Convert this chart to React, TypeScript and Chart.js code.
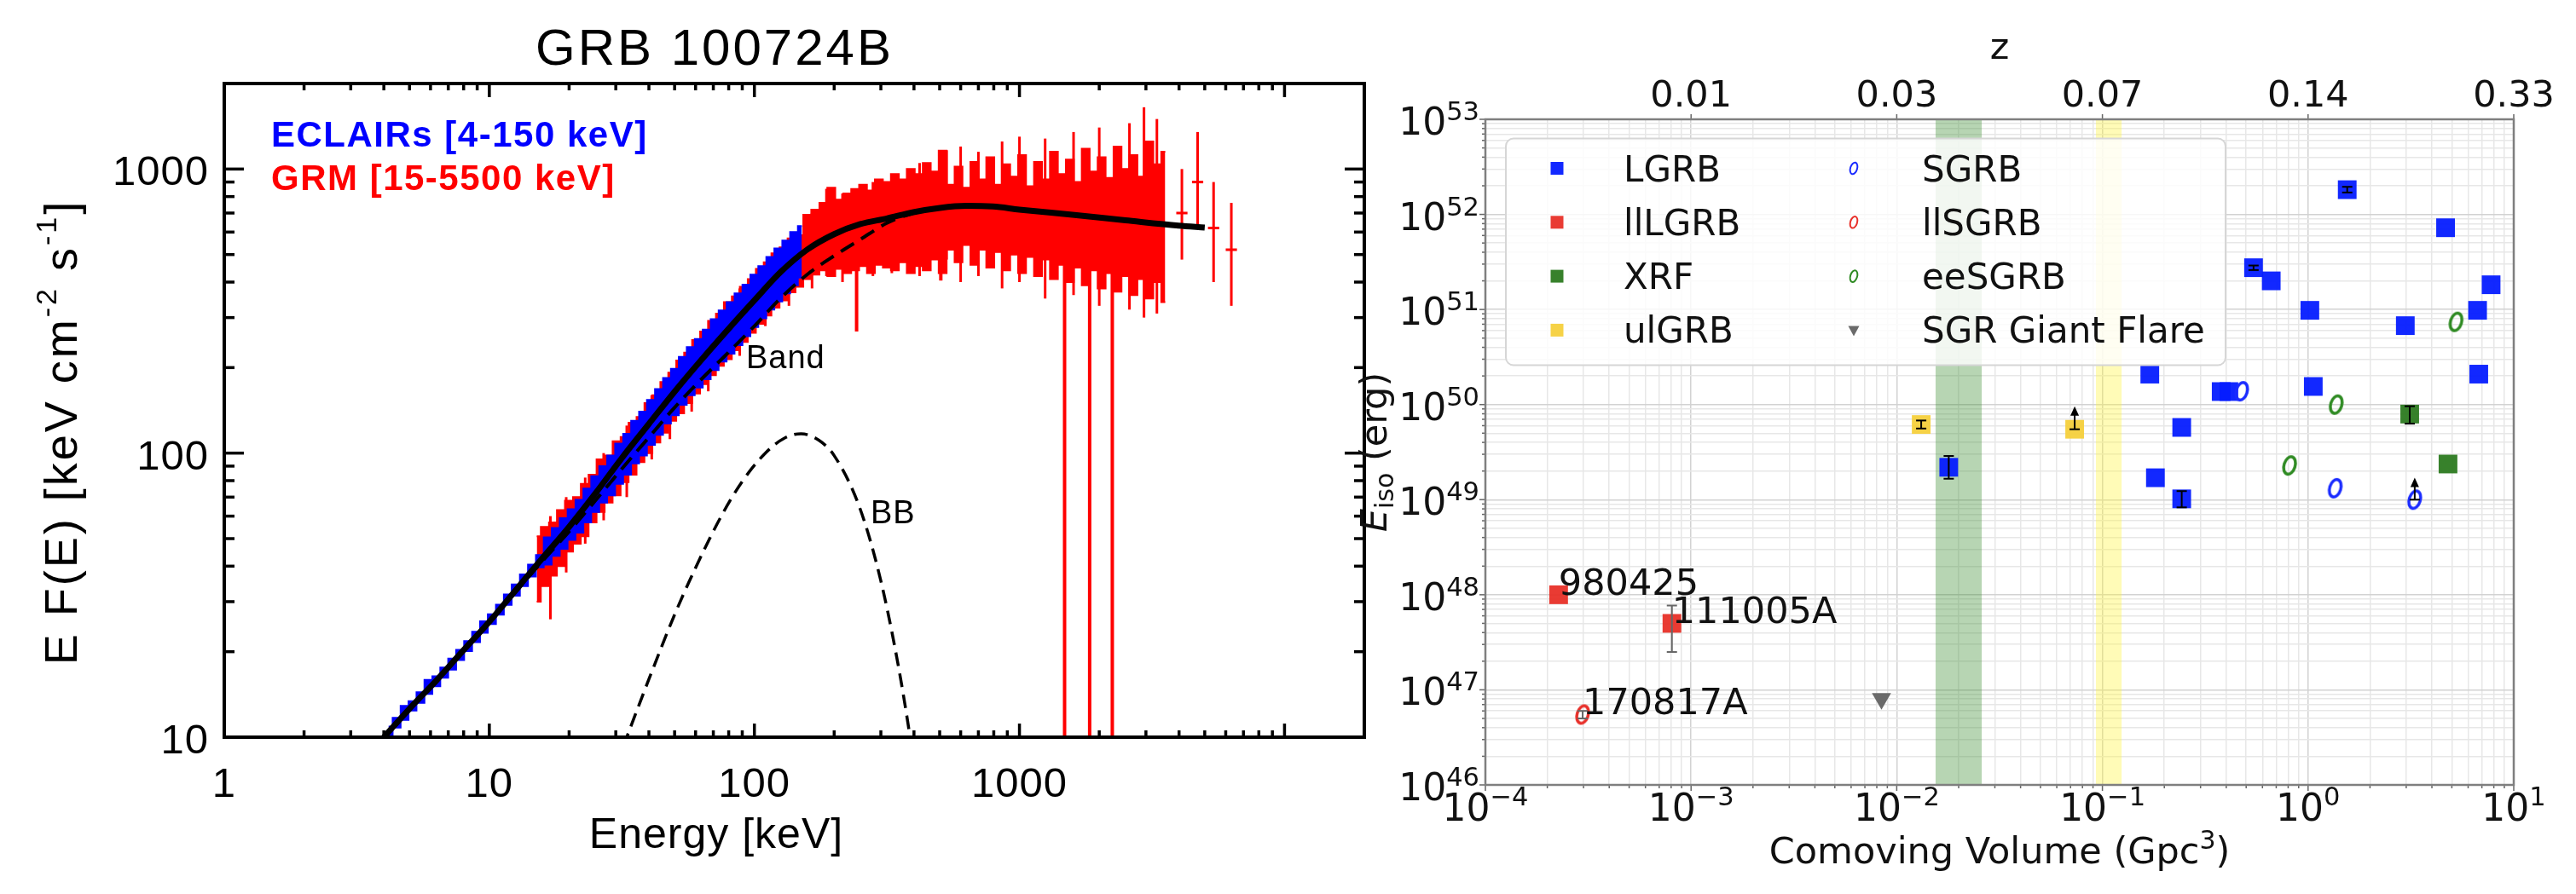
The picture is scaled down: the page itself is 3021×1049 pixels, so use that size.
import React, { useEffect, useRef } from 'react';
import { Chart, registerables } from 'chart.js';

Chart.register(...registerables);

/* ================= LEFT PANEL DATA (GRB 100724B spectrum) ================= */
const spectrumTitle = 'GRB 100724B';
const energyRange = [1, 20000];
const fluxRange = [10, 2000];
const energyTickValues = [1, 10, 100, 1000];
const energyTickLabels = ['1', '10', '100', '1000'];
const fluxTickValues = [10, 100, 1000];
const fluxTickLabels = ['10', '100', '1000'];
const energyAxisTitle = 'Energy [keV]';
const eclairsLabel = 'ECLAIRs [4-150 keV]';
const grmLabel = 'GRM [15-5500 keV]';
const bandLabel = 'Band';
const bbLabel = 'BB';

// total model (solid) and Band component (dashed)
const modelEnergy = [4, 5, 6.3, 7.9, 10, 12.6, 15.8, 20, 25.1, 31.6, 39.8, 50.1, 63.1, 79.4, 100, 126, 158, 200, 251, 316, 398, 501, 631, 794, 1000, 1585, 2512, 3981, 5000];
const totalModel = [10, 12.6, 15.8, 20, 25.5, 33, 42.5, 55, 72, 96, 126, 165, 213, 272, 345, 435, 520, 590, 640, 670, 705, 730, 742, 738, 720, 690, 660, 632, 622];
const bandModel = [10, 12.6, 15.8, 20, 25.3, 32.5, 41.5, 53, 68, 88, 113, 145, 182, 225, 280, 352, 425, 495, 565, 645, 700, 730, 742, 738, 720, 690, 660, 632, 622];
// blackbody component (dashed)
const bbEnergy = [30, 33, 40, 50, 60, 75, 90, 110, 130, 150, 175, 200, 250, 300, 350, 390, 420];
const bbModel = [7.9, 10, 16, 27, 39.5, 60, 79.5, 100, 113, 117, 111, 98, 64, 35.5, 17.6, 9.5, 5.8];

// ECLAIRs data (blue), upper / lower edges of the error bars
const eclairsEnergy = [4.17, 4.47, 4.79, 5.13, 5.5, 5.89, 6.31, 6.76, 7.24, 7.76, 8.32, 8.91, 9.55, 10.2, 11.0, 11.7, 12.6, 13.5, 14.5, 15.5, 16.6, 17.8, 19.1, 20.4, 21.9, 23.4, 25.1, 26.9, 28.8, 30.9, 33.1, 35.5, 38.0, 40.7, 43.7, 46.8, 50.1, 53.7, 57.5, 61.7, 66.1, 70.8, 75.9, 81.3, 87.1, 93.3, 100, 107, 115, 123, 132, 141, 151];
const eclairsHigh = [10.9, 11.7, 12.9, 13.4, 14.4, 15.9, 16.4, 17.6, 18.9, 20.3, 21.8, 23.5, 25.6, 27.1, 29.3, 31.8, 34.5, 37.4, 40.5, 43.8, 50.5, 54.5, 59.0, 63.5, 68.5, 75.0, 83.0, 90.0, 98.0, 108, 117, 130, 140, 154, 168, 184, 198, 218, 236, 252, 272, 296, 318, 340, 365, 392, 425, 455, 490, 525, 560, 600, 630];
const eclairsLow = [10.0, 10.8, 11.5, 12.4, 13.2, 14.2, 15.1, 16.2, 17.3, 18.7, 20.1, 21.6, 23.3, 25.0, 27.0, 29.2, 31.5, 34.0, 36.8, 39.6, 40.5, 43.5, 46.0, 49.5, 52.5, 57.0, 62.0, 67.0, 71.0, 78, 84, 92, 98, 107, 116, 127, 136, 148, 160, 170, 182, 196, 210, 224, 240, 258, 278, 298, 320, 342, 365, 390, 415];

// GRM data (red), upper / lower edges of the error bars
const grmEnergy = [15.1, 16.2, 17.4, 18.6, 20.0, 21.4, 22.9, 24.5, 26.3, 28.2, 30.2, 32.4, 34.7, 37.2, 39.8, 42.7, 45.7, 49.0, 52.5, 56.2, 60.3, 64.6, 69.2, 74.1, 79.4, 85.1, 91.2, 97.7, 105, 112, 120, 129, 138, 148, 158, 170, 182, 195, 209, 224, 240, 257, 275, 295, 316, 339, 363, 389, 417, 447, 479, 513, 550, 589, 631, 676, 724, 776, 832, 891, 955, 1023, 1096, 1175, 1259, 1349, 1445, 1549, 1660, 1778, 1905, 2042, 2188, 2344, 2512, 2692, 2884, 3090, 3311, 3548];
const grmHigh = [51, 55, 57, 63, 68, 70, 78, 84, 95, 98, 110, 114, 128, 134, 150, 160, 178, 192, 212, 226, 250, 268, 292, 310, 340, 356, 385, 410, 445, 470, 505, 530, 570, 585,
  690, 720, 760, 860, 780, 820, 850, 880, 840, 920, 900, 960, 920, 1000, 960, 1050,
  980, 1160, 880, 1020, 860, 1060, 920, 1100, 880, 1040, 940, 1120, 870, 1060, 920, 1150, 960, 1080, 900, 1180, 980, 1100, 930, 1200, 1000, 1120, 940, 1250, 1040, 1150];
const grmLow = [30, 34, 37, 40, 45, 48, 51, 57, 62, 67, 71, 79, 84, 93, 100, 109, 118, 130, 138, 150, 162, 175, 188, 203, 214, 230, 246, 265, 285, 305, 325, 345, 368, 385,
  410, 425, 440, 420, 445, 430, 440, 455, 430, 460, 450, 440, 470, 430, 455, 440,
  480, 430, 520, 470, 540, 460, 520, 450, 510, 440, 500, 430, 490, 420, 480, 410, 460, 400, 450, 390, 440, 380, 430, 370, 420, 360, 410, 350, 400, 340];
// GRM bins whose error bars reach well outside the bulk
const grmSpikeEnergy = [17, 19.5, 23, 27, 33, 41, 48, 58, 67, 88, 110, 135, 165, 187, 215, 280, 330, 420, 531, 600, 700, 860, 1000, 1250, 1600, 2000, 2600, 2950, 3300];
const grmSpikeLow = [26, 38, 48, 58, 70, 95, 112, 140, 165, 220, 280, 330, 380, 420, 400, 420, 430, 420, 480, 400, 420, 380, 400, 350, 360, 330, 320, 300, 310];
const grmSpikeHigh = [60, 70, 82, 100, 125, 160, 190, 230, 270, 380, 470, 560, 700, 852, 820, 900, 950, 1050, 1164, 1200, 1150, 1250, 1300, 1280, 1350, 1400, 1450, 1650, 1500];
// GRM bins with very large error bars (single deep dips)
const grmDipEnergy = [243, 505, 1480, 1840, 2240];
const grmDipLow = [268, 405, 1, 1, 1];
const grmDipHigh = [600, 700, 700, 650, 660];
// isolated GRM bins at the highest energies
const grmTailEnergy = [4100, 4700, 5400, 6300];
const grmTailValue = [700, 900, 620, 520];
const grmTailLow = [480, 620, 400, 330];
const grmTailHigh = [1000, 1350, 900, 760];

/* ================= RIGHT PANEL DATA (Eiso vs comoving volume) ================= */
const volumeRange = [1e-4, 10];
const eisoRange = [1e46, 1e53];
const volumeExponents = [-4, -3, -2, -1, 0, 1];
const eisoExponents = [46, 47, 48, 49, 50, 51, 52, 53];
const zTickVolume = [1e-3, 1e-2, 1e-1, 1, 10];
const zTickLabels = ['0.01', '0.03', '0.07', '0.14', '0.33'];
const greenBand = [0.01545, 0.0259];
const yellowBand = [0.093, 0.124];

const lgrbVolume = [1.55, 4.66, 0.543, 0.662, 7.76, 1.02, 6.67, 2.97, 0.17, 6.76, 0.378, 0.412, 1.06, 0.243, 0.181, 0.243, 0.0179];
const lgrbEiso = [1.82e52, 7.24e51, 2.75e51, 2.0e51, 1.82e51, 9.8e50, 9.8e50, 6.76e50, 2.09e50, 2.09e50, 1.37e50, 1.37e50, 1.55e50, 5.75e49, 1.7e49, 1.02e49, 2.19e49];
const llLgrbVolume = [2.27e-4, 8.07e-4];
const llLgrbEiso = [1.0e48, 5.0e47];
const xrfVolume = [3.12, 4.79];
const xrfEiso = [7.94e49, 2.37e49];
const ulGrbVolume = [0.01315, 0.0733];
const ulGrbEiso = [6.17e49, 5.5e49];
const sgrbVolume = [0.475, 1.355, 3.3];
const sgrbEiso = [1.38e50, 1.32e49, 1.0e49];
const llSgrbVolume = [2.97e-4];
const llSgrbEiso = [5.5e46];
const eeSgrbVolume = [5.24, 1.37, 0.813];
const eeSgrbEiso = [7.41e50, 1.0e50, 2.29e49];
const sgrFlareVolume = [8.43e-3];
const sgrFlareEiso = [8.1e46];

const errBarVolume = [1.55, 0.543, 0.243, 0.0179, 3.12, 0.01315, 8.07e-4, 2.97e-4];
const errBarLow = [1.7e52, 2.6e51, 8.3e48, 1.66e49, 6.3e49, 5.6e49, 2.5e47, 5.0e46];
const errBarHigh = [1.95e52, 2.9e51, 1.23e49, 2.88e49, 9.6e49, 6.8e49, 7.7e47, 6.0e46];
const lowerLimitVolume = [0.0733, 3.3];
const lowerLimitEiso = [5.5e49, 1.0e49];
const lowerLimitTip = [9.6e49, 1.7e49];

const annotationLabels = ['980425', '111005A', '170817A'];
const annotationVolume = [2.27e-4, 8.07e-4, 2.97e-4];
const annotationEiso = [1.0e48, 5.0e47, 5.5e46];

const legendCol1 = ['LGRB', 'llLGRB', 'XRF', 'ulGRB'];
const legendCol2 = ['SGRB', 'llSGRB', 'eeSGRB', 'SGR Giant Flare'];

/* ================= STYLES ================= */
const IDL_FONT = '"Liberation Sans", "DejaVu Sans", sans-serif';
const MPL_FONT = '"DejaVu Sans", sans-serif';
const C_LGRB = 'rgba(5,28,255,0.95)';
const C_LLLGRB = 'rgba(232,48,40,0.95)';
const C_XRF = 'rgba(44,122,32,0.95)';
const C_ULGRB = 'rgba(246,208,60,0.95)';
const C_SGRB = '#1a2bff';
const C_LLSGRB = '#e8302a';
const C_EESGRB = '#2e8a22';
const C_SGR = '#6a6a6a';
const errBarColors = ['#000', '#000', '#000', '#000', '#000', '#000', '#666', '#666'];

const LEFT_W = 1620;
const RIGHT_LEFT = 1540;
const RIGHT_W = 1481;
const H = 1049;

function pts(xs: number[], ys: number[]) {
  return xs.map((x, i) => ({ x, y: ys[i] }));
}

function logTicks(min: number, max: number) {
  const out: { v: number; major: boolean }[] = [];
  for (let d = Math.floor(Math.log10(min)); d <= Math.ceil(Math.log10(max)); d++) {
    for (let m = 1; m < 10; m++) {
      const v = m * Math.pow(10, d);
      if (v >= min * 0.9999 && v <= max * 1.0001) out.push({ v, major: m === 1 });
    }
  }
  return out;
}

function seg(ctx: CanvasRenderingContext2D, x1: number, y1: number, x2: number, y2: number) {
  ctx.beginPath();
  ctx.moveTo(x1, y1);
  ctx.lineTo(x2, y2);
  ctx.stroke();
}

type Run = { t: string; font: string; dy?: number };
function drawRuns(ctx: CanvasRenderingContext2D, runs: Run[], x: number, y: number, align: string) {
  let total = 0;
  runs.forEach((r) => {
    ctx.font = r.font;
    total += ctx.measureText(r.t).width;
  });
  let cx = align === 'center' ? x - total / 2 : align === 'right' ? x - total : x;
  ctx.textAlign = 'left';
  ctx.textBaseline = 'alphabetic';
  runs.forEach((r) => {
    ctx.font = r.font;
    ctx.fillText(r.t, cx, y + (r.dy || 0));
    cx += ctx.measureText(r.t).width;
  });
}

function setSpacing(ctx: any, s: string) {
  ctx.letterSpacing = s;
}

function makeZero(color: string, w: number, h: number, rx: number, ry: number, lw: number) {
  const c = document.createElement('canvas');
  c.width = w;
  c.height = h;
  const g = c.getContext('2d')!;
  g.strokeStyle = color;
  g.lineWidth = lw;
  g.beginPath();
  g.ellipse(w / 2, h / 2, rx, ry, 0.3, 0, Math.PI * 2);
  g.stroke();
  return c;
}

/* ================= LEFT CHART ================= */
const leftPlugin = {
  id: 'idlDecor',
  beforeDatasetsDraw(chart: any) {
    const { ctx, chartArea: a, scales } = chart;
    const xs = scales.x, ys = scales.y;
    ctx.save();
    ctx.beginPath();
    ctx.rect(a.left, a.top, a.right - a.left, a.bottom - a.top);
    ctx.clip();
    ctx.strokeStyle = '#ff0000';
    ctx.lineWidth = 3;
    grmSpikeEnergy.forEach((e, i) => {
      const px = xs.getPixelForValue(e);
      seg(ctx, px, ys.getPixelForValue(grmSpikeLow[i]), px, ys.getPixelForValue(grmSpikeHigh[i]));
    });
    ctx.lineWidth = 4;
    grmDipEnergy.forEach((e, i) => {
      const px = xs.getPixelForValue(e);
      seg(ctx, px, ys.getPixelForValue(grmDipLow[i]), px, ys.getPixelForValue(grmDipHigh[i]));
    });
    ctx.lineWidth = 3;
    grmTailEnergy.forEach((e, i) => {
      const px = xs.getPixelForValue(e);
      const py = ys.getPixelForValue(grmTailValue[i]);
      seg(ctx, px, ys.getPixelForValue(grmTailLow[i]), px, ys.getPixelForValue(grmTailHigh[i]));
      seg(ctx, xs.getPixelForValue(e / 1.05), py, xs.getPixelForValue(e * 1.05), py);
    });
    ctx.restore();
  },
  afterDraw(chart: any) {
    const { ctx, chartArea: a, scales } = chart;
    const xs = scales.x, ys = scales.y;
    ctx.save();
    ctx.strokeStyle = '#000';
    ctx.lineCap = 'butt';
    ctx.lineWidth = 3.5;
    logTicks(energyRange[0], energyRange[1]).forEach(({ v, major }) => {
      const px = xs.getPixelForValue(v);
      const len = major ? 16 : 8;
      seg(ctx, px, a.bottom, px, a.bottom - len);
      seg(ctx, px, a.top, px, a.top + len);
    });
    logTicks(fluxRange[0], fluxRange[1]).forEach(({ v, major }) => {
      const py = ys.getPixelForValue(v);
      const len = major ? 23 : 12;
      seg(ctx, a.left, py, a.left + len, py);
      seg(ctx, a.right, py, a.right - len, py);
    });
    ctx.lineWidth = 4;
    ctx.strokeRect(a.left, a.top, a.right - a.left, a.bottom - a.top);

    ctx.fillStyle = '#000';
    ctx.textBaseline = 'alphabetic';
    ctx.font = `49px ${IDL_FONT}`;
    setSpacing(ctx, '1px');
    ctx.textAlign = 'center';
    energyTickValues.forEach((v, i) => ctx.fillText(energyTickLabels[i], xs.getPixelForValue(v), a.bottom + 70));
    ctx.textAlign = 'right';
    fluxTickValues.forEach((v, i) => ctx.fillText(fluxTickLabels[i], a.left - 18, ys.getPixelForValue(v) + 19));

    // title and axis titles
    setSpacing(ctx, '3px');
    ctx.font = `60px ${IDL_FONT}`;
    ctx.textAlign = 'center';
    ctx.fillText(spectrumTitle, 838, 76);
    setSpacing(ctx, '1px');
    ctx.font = `50px ${IDL_FONT}`;
    ctx.fillText(energyAxisTitle, 840, 995);

    ctx.save();
    ctx.translate(90, 507);
    ctx.rotate(-Math.PI / 2);
    setSpacing(ctx, '3px');
    const big = `54px ${IDL_FONT}`;
    const sup = `34px ${IDL_FONT}`;
    drawRuns(ctx, [
      { t: 'E F(E) [keV cm', font: big },
      { t: '-2', font: sup, dy: -24 },
      { t: ' s', font: big },
      { t: '-1', font: sup, dy: -24 },
      { t: ']', font: big },
    ], 0, 0, 'center');
    ctx.restore();

    // instrument labels
    setSpacing(ctx, '1.5px');
    ctx.font = `bold 42px ${IDL_FONT}`;
    ctx.textAlign = 'left';
    ctx.fillStyle = '#0000ff';
    ctx.fillText(eclairsLabel, 318, 172);
    ctx.fillStyle = '#ff0000';
    ctx.fillText(grmLabel, 318, 223);

    ctx.fillStyle = '#000';
    setSpacing(ctx, '1px');
    ctx.font = `38px ${IDL_FONT}`;
    ctx.fillText(bandLabel, 875, 432);
    ctx.fillText(bbLabel, 1021, 614);
    ctx.restore();
  },
};

function leftConfig(): any {
  return {
    type: 'line',
    data: {
      datasets: [
        { data: pts(modelEnergy, totalModel), borderColor: '#000', borderWidth: 7, pointRadius: 0, cubicInterpolationMode: 'monotone', fill: false },
        { data: pts(modelEnergy, bandModel), borderColor: '#000', borderWidth: 4, borderDash: [18, 10], pointRadius: 0, cubicInterpolationMode: 'monotone', fill: false },
        { data: pts(bbEnergy, bbModel), borderColor: '#000', borderWidth: 3.5, borderDash: [16, 9], pointRadius: 0, cubicInterpolationMode: 'monotone', fill: false },
        { data: pts(eclairsEnergy, eclairsHigh), borderColor: '#0000ff', backgroundColor: '#0000ff', borderWidth: 2, pointRadius: 0, stepped: 'middle', fill: '+1' },
        { data: pts(eclairsEnergy, eclairsLow), borderColor: '#0000ff', borderWidth: 2, pointRadius: 0, stepped: 'middle', fill: false },
        { data: pts(grmEnergy, grmHigh), borderColor: '#ff0000', backgroundColor: '#ff0000', borderWidth: 2, pointRadius: 0, stepped: 'middle', fill: '+1' },
        { data: pts(grmEnergy, grmLow), borderColor: '#ff0000', borderWidth: 2, pointRadius: 0, stepped: 'middle', fill: false },
      ],
    },
    options: {
      animation: false,
      responsive: false,
      devicePixelRatio: 1,
      layout: { padding: { left: 0, top: 98, right: LEFT_W - 1600, bottom: 0 } },
      plugins: { legend: { display: false }, tooltip: { enabled: false }, title: { display: false } },
      scales: {
        x: {
          type: 'logarithmic', min: energyRange[0], max: energyRange[1],
          afterFit: (s: any) => { s.height = H - 865; },
          ticks: { display: false }, grid: { display: false }, border: { display: false },
        },
        y: {
          type: 'logarithmic', min: fluxRange[0], max: fluxRange[1],
          afterFit: (s: any) => { s.width = 263; },
          ticks: { display: false }, grid: { display: false }, border: { display: false },
        },
      },
    },
    plugins: [leftPlugin],
  };
}

/* ================= RIGHT CHART ================= */
const rightPlugin = {
  id: 'mplDecor',
  beforeDatasetsDraw(chart: any) {
    const { ctx, chartArea: a, scales } = chart;
    const xs = scales.x;
    ctx.save();
    ctx.fillStyle = 'rgba(60,140,50,0.37)';
    let p0 = xs.getPixelForValue(greenBand[0]), p1 = xs.getPixelForValue(greenBand[1]);
    ctx.fillRect(p0, a.top, p1 - p0, a.bottom - a.top);
    ctx.fillStyle = 'rgba(255,245,60,0.37)';
    p0 = xs.getPixelForValue(yellowBand[0]);
    p1 = xs.getPixelForValue(yellowBand[1]);
    ctx.fillRect(p0, a.top, p1 - p0, a.bottom - a.top);
    ctx.restore();
  },
  afterDatasetsDraw(chart: any) {
    const { ctx, scales } = chart;
    const xs = scales.x, ys = scales.y;
    ctx.save();
    ctx.lineWidth = 2;
    errBarVolume.forEach((v, i) => {
      const px = xs.getPixelForValue(v);
      const lo = ys.getPixelForValue(errBarLow[i]);
      const hi = ys.getPixelForValue(errBarHigh[i]);
      ctx.strokeStyle = errBarColors[i];
      seg(ctx, px, lo, px, hi);
      seg(ctx, px - 6, lo, px + 6, lo);
      seg(ctx, px - 6, hi, px + 6, hi);
    });
    ctx.strokeStyle = '#000';
    ctx.fillStyle = '#000';
    lowerLimitVolume.forEach((v, i) => {
      const px = xs.getPixelForValue(v);
      const py = ys.getPixelForValue(lowerLimitEiso[i]);
      const pt = ys.getPixelForValue(lowerLimitTip[i]);
      seg(ctx, px, py, px, pt + 8);
      seg(ctx, px - 6, py, px + 6, py);
      ctx.beginPath();
      ctx.moveTo(px, pt);
      ctx.lineTo(px - 5, pt + 11);
      ctx.lineTo(px + 5, pt + 11);
      ctx.closePath();
      ctx.fill();
    });
    ctx.fillStyle = '#111';
    ctx.font = `43px ${MPL_FONT}`;
    ctx.textAlign = 'left';
    ctx.textBaseline = 'alphabetic';
    annotationLabels.forEach((t, i) => {
      ctx.fillText(t, xs.getPixelForValue(annotationVolume[i]), ys.getPixelForValue(annotationEiso[i]));
    });
    ctx.restore();
  },
  afterDraw(chart: any) {
    const { ctx, chartArea: a, scales } = chart;
    const xs = scales.x, ys = scales.y;
    ctx.save();

    // legend
    const lx = a.left + 24, ly = a.top + 22.5, lw = 844, lh = 266;
    ctx.beginPath();
    ctx.roundRect(lx, ly, lw, lh, 9);
    ctx.fillStyle = 'rgba(255,255,255,0.82)';
    ctx.fill();
    ctx.strokeStyle = '#d6d6d6';
    ctx.lineWidth = 2;
    ctx.stroke();
    const rowY = [0, 1, 2, 3].map((r) => ly + 35 + r * 63.3);
    const sqColors = [C_LGRB, C_LLLGRB, C_XRF, C_ULGRB];
    const zeroColors = [C_SGRB, C_LLSGRB, C_EESGRB];
    ctx.font = `42px ${MPL_FONT}`;
    ctx.textAlign = 'left';
    ctx.textBaseline = 'alphabetic';
    rowY.forEach((ry, r) => {
      ctx.fillStyle = sqColors[r];
      ctx.fillRect(lx + 60 - 7.5, ry - 7.5, 15, 15);
      ctx.fillStyle = '#111';
      ctx.fillText(legendCol1[r], lx + 138, ry + 15);
      const mx = lx + 408;
      if (r < 3) {
        ctx.strokeStyle = zeroColors[r];
        ctx.lineWidth = 2;
        ctx.beginPath();
        ctx.ellipse(mx, ry, 4, 7, 0.3, 0, Math.PI * 2);
        ctx.stroke();
      } else {
        ctx.fillStyle = C_SGR;
        ctx.beginPath();
        ctx.moveTo(mx - 6.5, ry - 5);
        ctx.lineTo(mx + 6.5, ry - 5);
        ctx.lineTo(mx, ry + 7);
        ctx.closePath();
        ctx.fill();
      }
      ctx.fillStyle = '#111';
      ctx.fillText(legendCol2[r], lx + 488, ry + 15);
    });

    // tick marks
    ctx.strokeStyle = '#666';
    ctx.lineWidth = 1.5;
    logTicks(volumeRange[0], volumeRange[1]).forEach(({ v, major }) => {
      const px = xs.getPixelForValue(v);
      seg(ctx, px, a.bottom, px, a.bottom + (major ? 7 : 4));
    });
    logTicks(eisoRange[0], eisoRange[1]).forEach(({ v, major }) => {
      const py = ys.getPixelForValue(v);
      seg(ctx, a.left, py, a.left - (major ? 7 : 4), py);
    });
    zTickVolume.forEach((v) => {
      const px = xs.getPixelForValue(v);
      seg(ctx, px, a.top, px, a.top - 6);
    });

    // frame
    ctx.strokeStyle = '#7f7f7f';
    ctx.lineWidth = 2.5;
    ctx.strokeRect(a.left, a.top, a.right - a.left, a.bottom - a.top);

    // tick labels
    ctx.fillStyle = '#111';
    const f10 = `44px ${MPL_FONT}`;
    const fsup = `30.5px ${MPL_FONT}`;
    eisoExponents.forEach((d) => {
      const py = ys.getPixelForValue(Math.pow(10, d));
      drawRuns(ctx, [{ t: '10', font: f10, dy: 18 }, { t: String(d), font: fsup, dy: 1 }], a.left - 7, py, 'right');
    });
    volumeExponents.forEach((d) => {
      const px = xs.getPixelForValue(Math.pow(10, d));
      const s = d < 0 ? '\u2212' + Math.abs(d) : String(d);
      drawRuns(ctx, [{ t: '10', font: f10, dy: 42 }, { t: s, font: fsup, dy: 24 }], px, a.bottom, 'center');
    });
    ctx.font = `43px ${MPL_FONT}`;
    ctx.textAlign = 'center';
    zTickVolume.forEach((v, i) => {
      ctx.fillText(zTickLabels[i], xs.getPixelForValue(v), a.top - 15);
    });

    // axis titles
    const cx = (a.left + a.right) / 2;
    ctx.font = `43px ${MPL_FONT}`;
    ctx.textAlign = 'center';
    ctx.fillText('z', cx, a.top - 71);
    drawRuns(ctx, [
      { t: 'Comoving Volume (Gpc', font: `43px ${MPL_FONT}` },
      { t: '3', font: `30px ${MPL_FONT}`, dy: -17 },
      { t: ')', font: `43px ${MPL_FONT}` },
    ], cx, a.bottom + 92, 'center');

    ctx.save();
    ctx.translate(a.left - 116, (a.top + a.bottom) / 2);
    ctx.rotate(-Math.PI / 2);
    drawRuns(ctx, [
      { t: 'E', font: `italic 43px ${MPL_FONT}` },
      { t: 'iso', font: `30px ${MPL_FONT}`, dy: 8 },
      { t: ' (erg)', font: `43px ${MPL_FONT}` },
    ], 0, 0, 'center');
    ctx.restore();

    ctx.restore();
  },
};

function rightConfig(): any {
  const zeroBig = (c: string) => makeZero(c, 28, 30, 6.5, 10.5, 3.5);
  const sq = (c: string) => ({ pointStyle: 'rect', pointRadius: 15.5, backgroundColor: c, borderColor: c, borderWidth: 0 });
  const gridColor = (c: any) => (c.tick && c.tick.major ? '#d2d2d2' : '#e7e7e7');
  return {
    type: 'scatter',
    data: {
      datasets: [
        { label: 'SGRB', data: pts(sgrbVolume, sgrbEiso), pointStyle: zeroBig(C_SGRB), pointRadius: 10, order: 1 },
        { label: 'llSGRB', data: pts(llSgrbVolume, llSgrbEiso), pointStyle: zeroBig(C_LLSGRB), pointRadius: 10, order: 1 },
        { label: 'eeSGRB', data: pts(eeSgrbVolume, eeSgrbEiso), pointStyle: zeroBig(C_EESGRB), pointRadius: 10, order: 1 },
        { label: 'SGR Giant Flare', data: pts(sgrFlareVolume, sgrFlareEiso), pointStyle: 'triangle', rotation: 180, pointRadius: 13, backgroundColor: C_SGR, borderColor: C_SGR, borderWidth: 0, order: 2 },
        { label: 'LGRB', data: pts(lgrbVolume, lgrbEiso), ...sq(C_LGRB), order: 3 },
        { label: 'llLGRB', data: pts(llLgrbVolume, llLgrbEiso), ...sq(C_LLLGRB), order: 3 },
        { label: 'XRF', data: pts(xrfVolume, xrfEiso), ...sq(C_XRF), order: 3 },
        { label: 'ulGRB', data: pts(ulGrbVolume, ulGrbEiso), ...sq(C_ULGRB), order: 3 },
      ],
    },
    options: {
      animation: false,
      responsive: false,
      devicePixelRatio: 1,
      layout: { padding: { left: 0, top: 140, right: 73, bottom: 0 } },
      plugins: { legend: { display: false }, tooltip: { enabled: false } },
      scales: {
        x: {
          type: 'logarithmic', min: volumeRange[0], max: volumeRange[1],
          afterFit: (s: any) => { s.height = 128; },
          afterBuildTicks: (s: any) => { s.ticks = logTicks(volumeRange[0], volumeRange[1]).map((t) => ({ value: t.v, major: t.major })); },
          ticks: { display: false, autoSkip: false },
          grid: { color: gridColor, lineWidth: 1.5, drawTicks: false },
          border: { display: false },
        },
        y: {
          type: 'logarithmic', min: eisoRange[0], max: eisoRange[1],
          afterFit: (s: any) => { s.width = 202; },
          afterBuildTicks: (s: any) => { s.ticks = logTicks(eisoRange[0], eisoRange[1]).map((t) => ({ value: t.v, major: t.major })); },
          ticks: { display: false, autoSkip: false },
          grid: { color: gridColor, lineWidth: 1.5, drawTicks: false },
          border: { display: false },
        },
      },
    },
    plugins: [rightPlugin],
  };
}

export default function App() {
  const leftRef = useRef<HTMLCanvasElement>(null);
  const rightRef = useRef<HTMLCanvasElement>(null);
  useEffect(() => {
    document.body.style.margin = '0';
    document.body.style.overflow = 'hidden';
    const c1 = new Chart(leftRef.current as HTMLCanvasElement, leftConfig());
    const c2 = new Chart(rightRef.current as HTMLCanvasElement, rightConfig());
    return () => {
      c1.destroy();
      c2.destroy();
    };
  }, []);
  return (
    <div style={{ position: 'absolute', left: 0, top: 0, width: 3021, height: H, background: '#fff' }}>
      <canvas ref={leftRef} width={LEFT_W} height={H} style={{ position: 'absolute', left: 0, top: 0, width: LEFT_W, height: H }} />
      <canvas ref={rightRef} width={RIGHT_W} height={H} style={{ position: 'absolute', left: RIGHT_LEFT, top: 0, width: RIGHT_W, height: H }} />
    </div>
  );
}
